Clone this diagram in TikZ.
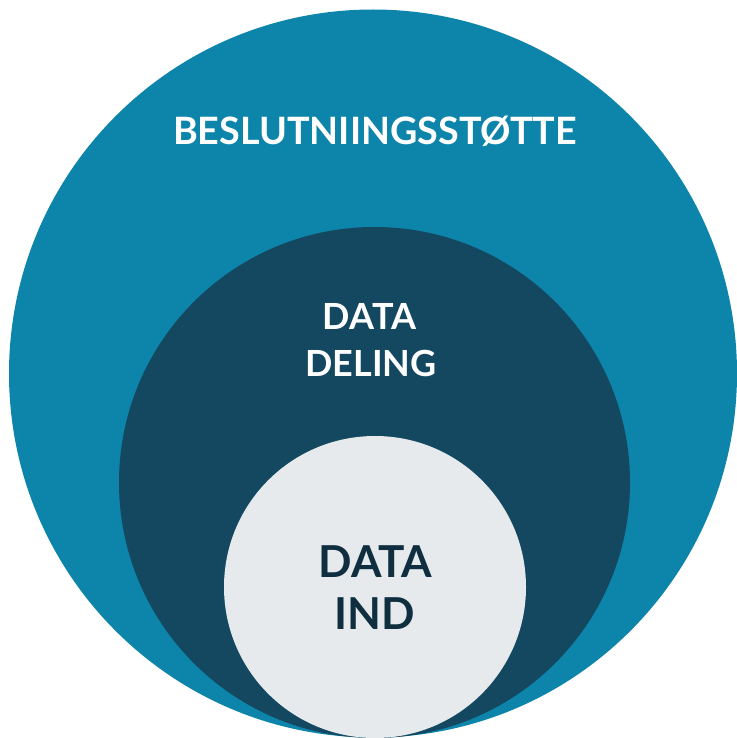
\documentclass[tikz,border=0pt]{standalone}
\usepackage{fontspec}
\setmainfont{Lato}
\definecolor{outerc}{HTML}{0D84A9}
\definecolor{midc}{HTML}{134860}
\definecolor{innerc}{HTML}{E6EAED}
\definecolor{darktext}{HTML}{0F2E3F}
\begin{document}
\begin{tikzpicture}[x=1pt,y=-1pt,
  disc/.style={circle,inner sep=0pt,draw=none},
  lbl/.style={anchor=base,inner sep=0pt,font=\bfseries}]
\useasboundingbox (0,0) rectangle (736,738);
\node[disc,fill=outerc,minimum size=728pt] (outer) at (373,373.5) {};
\node[disc,fill=midc,minimum size=511pt] (mid) at (374.5,482.5) {};
\node[disc,fill=innerc,minimum size=302pt] (inner) at (375,587) {};
\node[lbl,text=white,font=\bfseries\fontsize{37.7}{40}\selectfont] (t1) at (375,145) {BESLUTNIINGSSTØTTE};
\node[lbl,text=white,font=\bfseries\fontsize{36}{40}\selectfont] (t2) at (369.5,329.5) {DATA};
\node[lbl,text=white,font=\bfseries\fontsize{36}{40}\selectfont] (t3) at (371,376.5) {DELING};
\node[lbl,text=darktext,font=\bfseries\fontsize{44}{46}\selectfont] (t4) at (375.5,577.5) {DATA};
\node[lbl,text=darktext,font=\bfseries\fontsize{44}{46}\selectfont] (t5) at (375,629.5) {IND};
\end{tikzpicture}
\end{document}
